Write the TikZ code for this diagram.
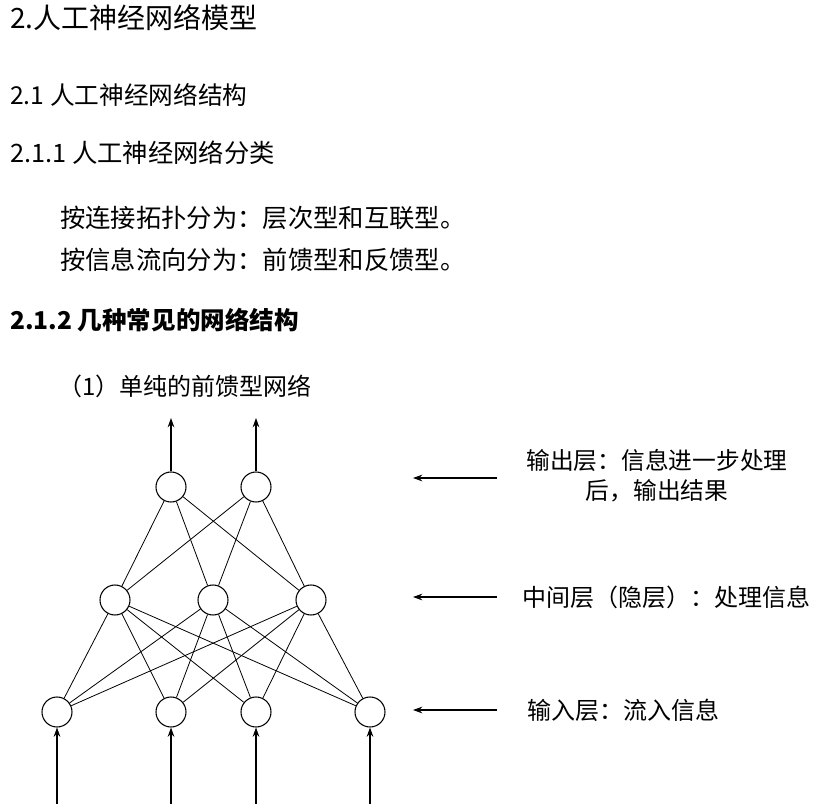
\documentclass[tikz,border=0pt]{standalone}
\usepackage{fontspec}
\setmainfont{Liberation Sans}
\newfontfamily\cjk{Noto Sans CJK SC}
\usetikzlibrary{arrows.meta}
\tikzset{
  neuron/.style={circle,draw,thick,minimum size=22.5pt,inner sep=0pt},
  link/.style={draw,line width=0.6pt},
  flow/.style={draw,thick,-{Stealth[length=7pt,width=5pt]}},
  txt/.style={anchor=west,inner sep=0pt,font=\cjk\fontsize{18}{22}\selectfont}
}
\begin{document}
\begin{tikzpicture}[x=0.75pt,y=-0.75pt]
\useasboundingbox (0,0) rectangle (840,804);
% headings
\node[txt,font=\cjk\fontsize{21}{24}\selectfont] (h1) at (10,18) {2.人工神经网络模型};
\node[txt,font=\cjk\fontsize{18.5}{22}\selectfont] (h2) at (10,95) {2.1 人工神经网络结构};
\node[txt,font=\cjk\fontsize{19}{22}\selectfont] (h3) at (10,153) {2.1.1 人工神经网络分类};
\node[txt,font=\cjk\fontsize{19}{22}\selectfont] (p1) at (60,218) {按连接拓扑分为：层次型和互联型。};
\node[txt,font=\cjk\fontsize{19}{22}\selectfont] (p2) at (60,260) {按信息流向分为：前馈型和反馈型。};
\node[txt,font=\cjk\bfseries\fontsize{18.4}{22}\selectfont] (h4) at (10,320) {2.1.2 几种常见的网络结构};
\node[txt] (cap) at (58,386) {（1）单纯的前馈型网络};
% neurons
\foreach \n/\x in {1/171,2/256} \node[neuron] (o\n) at (\x,487) {};
\foreach \n/\x in {1/115,2/213,3/311} \node[neuron] (m\n) at (\x,600) {};
\foreach \n/\x in {1/57,2/171,3/256,4/370} \node[neuron] (i\n) at (\x,712) {};
% links
\foreach \a in {1,2,3,4} \foreach \b in {1,2,3} \path[link] (i\a) -- (m\b);
\foreach \a in {1,2,3} \foreach \b in {1,2} \path[link] (m\a) -- (o\b);
% in and out
\foreach \n/\x in {1/171,2/256} {
  \coordinate (ot\n) at (\x,418);
  \path[flow] (o\n) -- (ot\n);
}
\foreach \n/\x in {1/57,2/171,3/256,4/370} {
  \coordinate (ib\n) at (\x,804);
  \path[flow] (ib\n) -- (i\n);
}
% layer labels
\foreach \n/\y in {1/478,2/597,3/710} {
  \coordinate (as\n) at (497,\y);
  \coordinate (ae\n) at (413,\y);
  \path[flow] (as\n) -- (ae\n);
}
\node[align=center,inner sep=0pt,font=\cjk\fontsize{17.8}{22.5}\selectfont] (l1) at (657,476) {输出层：信息进一步处理\\后，输出结果};
\node[txt] (l2) at (522,597) {中间层（隐层）：处理信息};
\node[txt] (l3) at (527,710) {输入层：流入信息};
\end{tikzpicture}
\end{document}
